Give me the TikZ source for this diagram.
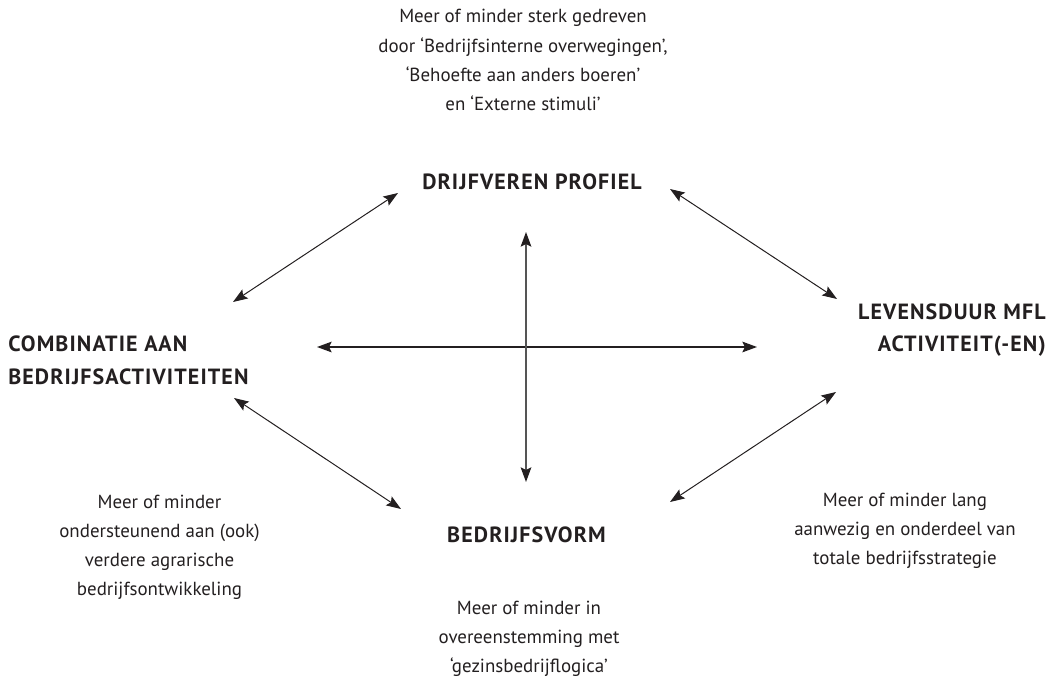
\documentclass[tikz,border=0pt]{standalone}
\usepackage{fontspec}
\setmainfont{PT Sans}
\newfontfamily\labelfont{PT Sans}[LetterSpace=5]
\usetikzlibrary{arrows.meta}
\definecolor{ink}{HTML}{231F20}
\definecolor{axisgray}{HTML}{555555}
\begin{document}
\begin{tikzpicture}
        [x=0.75pt, y=-0.75pt,
        head/.tip={Stealth[length=11pt, width=8pt, inset=2pt, color=ink]},
        label/.style={font=\labelfont\bfseries\fontsize{16.5}{24.5}\selectfont, text=ink, inner sep=0pt},
        note/.style={font=\fontsize{14.2}{21.8}\selectfont, text=ink, align=center, inner sep=0pt},
        link/.style={draw=ink, line width=0.75pt, head-head}]
        \useasboundingbox (0,0) rectangle (1059,681);
        \node[note] (drijfNote) at (523,60) {Meer of minder sterk gedreven\\door ‘Bedrijfsinterne overwegingen’,\\‘Behoefte aan anders boeren’\\en ‘Externe stimuli’};
        \node[label, anchor=base] (drijf) at (532,190) {DRIJFVEREN PROFIEL};
        \node[label, align=left, anchor=west] (combi) at (8,360) {COMBINATIE AAN\\BEDRIJFSACTIVITEITEN};
        \node[label, align=right, anchor=east] (levens) at (1046,330) {LEVENSDUUR MFL\\ACTIVITEIT(-EN)};
        \node[label, anchor=base] (vorm) at (526.5,542) {BEDRIJFSVORM};
        \node[note] (combiNote) at (159.5,547) {Meer of minder\\ondersteunend aan (ook)\\verdere agrarische\\bedrijfsontwikkeling};
        \node[note] (levensNote) at (905,531) {Meer of minder lang\\aanwezig en onderdeel van\\totale bedrijfsstrategie};
        \node[note] (vormNote) at (529,639) {Meer of minder in\\overeenstemming met\\‘gezinsbedrijflogica’};
        
        % arrow ends
        \coordinate (combiNE) at (233,302);
        \coordinate (drijfW) at (398,193);
        \coordinate (drijfE) at (670,189);
        \coordinate (levensNW) at (837,299);
        \coordinate (combiSE) at (234,398);
        \coordinate (vormW) at (401,509);
        \coordinate (vormE) at (670,502);
        \coordinate (levensSW) at (836,392);
        \coordinate (drijfS) at (526,232);
        \coordinate (vormN) at (526,482);
        \coordinate (combiE) at (317,347);
        \coordinate (levensW) at (757,347);
        
        \draw[link] (combiNE) -- (drijfW);
        \draw[link] (drijfE) -- (levensNW);
        \draw[link] (combiSE) -- (vormW);
        \draw[link] (vormE) -- (levensSW);
        \draw[link, line width=1pt] (combiE) -- (levensW);
        \draw[link, draw=axisgray, line width=1.2pt] (drijfS) -- (vormN);
    \end{tikzpicture}
\end{document}
